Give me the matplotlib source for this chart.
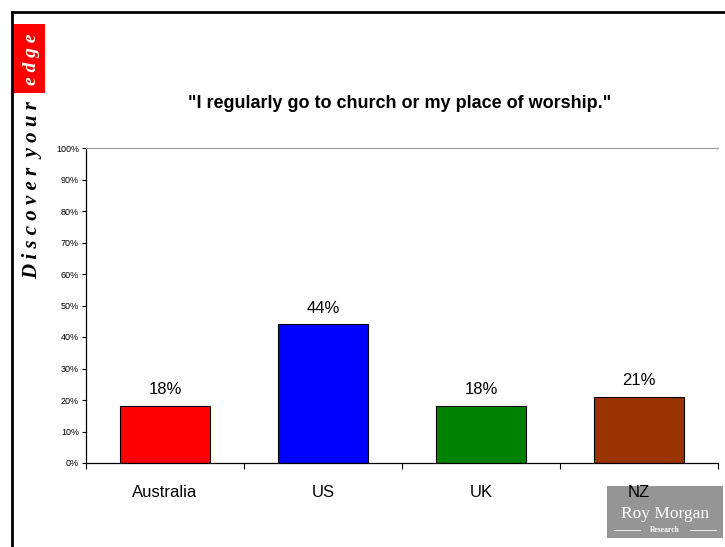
import matplotlib
matplotlib.use('Agg')
import matplotlib.pyplot as plt
from matplotlib.lines import Line2D
from matplotlib.patches import Rectangle
from matplotlib.ticker import FixedLocator, MultipleLocator, PercentFormatter

countries = ['Australia', 'US', 'UK', 'NZ']
values = [18, 44, 18, 21]
colors = ['#FF0000', '#0000FF', '#008000', '#993300']
title = '"I regularly go to church or my place of worship."'

plt.rcParams['font.family'] = ['Liberation Sans', 'DejaVu Sans']

W, H = 725, 547
fig = plt.figure(figsize=(W / 100, H / 100), dpi=100)

def fx(px):
    return px / W

def fy(py):
    return 1 - py / H

# outer frame
fig.add_artist(Line2D([fx(12), fx(725)], [fy(12), fy(12)], color='black', lw=2))
fig.add_artist(Line2D([fx(12), fx(12)], [fy(12), fy(547)], color='black', lw=2))

# "Discover your edge" strip
fig.add_artist(Rectangle((fx(13), fy(93)), fx(32), fy(24) - fy(93), color='#FF0000', lw=0))
fig.text(fx(31), fy(59), 'e d g e', rotation=90, ha='center', va='center', color='white',
         family='Liberation Serif', style='italic', fontsize=14, weight='bold')
fig.text(fx(32), fy(190), 'D i s c o v e r  y o u r', rotation=90, ha='center', va='center',
         color='black', family='Liberation Serif', style='italic', fontsize=15, weight='bold')

ax = fig.add_axes([fx(86), fy(463), fx(718) - fx(86), fy(148) - fy(463)])
x = list(range(len(countries)))
ax.bar(x, values, width=0.565, color=colors, edgecolor='black', linewidth=0.8)
for xi, v in zip(x, values):
    ax.text(xi, v + 2.8, f'{v}%', ha='center', va='bottom', fontsize=12)

ax.set_xlim(-0.5, len(countries) - 0.5)
ax.set_ylim(0, 100)
ax.yaxis.set_major_locator(MultipleLocator(10))
ax.yaxis.set_major_formatter(PercentFormatter(decimals=0))
ax.tick_params(axis='y', labelsize=6.5, length=3, width=0.8, pad=2)

ax.set_xticks(x)
ax.set_xticklabels(countries, fontsize=12)
ax.tick_params(axis='x', length=0, pad=16)
ax.xaxis.set_minor_locator(FixedLocator([-0.5, 0.5, 1.5, 2.5, 3.5]))
ax.tick_params(axis='x', which='minor', length=4, width=0.8, direction='out')

ax.spines['right'].set_visible(False)
ax.spines['top'].set_color('#999999')
ax.spines['left'].set_linewidth(0.9)
ax.spines['bottom'].set_linewidth(0.9)

fig.text(fx(400), fy(103), title, ha='center', va='center', fontsize=13, weight='bold')

# logo (behind the axes so the NZ label stays visible)
fig.add_artist(Rectangle((fx(607), fy(538)), fx(116), fy(486) - fy(538), color='#959595',
                         lw=0, zorder=-1))
fig.text(fx(665), fy(514), 'Roy Morgan', ha='center', va='center', color='white',
         family='Liberation Serif', fontsize=12.5)
fig.text(fx(665), fy(530), 'Research', ha='center', va='center', color='white',
         family='Liberation Serif', fontsize=5.5, weight='bold')
fig.add_artist(Line2D([fx(614), fx(640)], [fy(530), fy(530)], color='white', lw=0.6))
fig.add_artist(Line2D([fx(690), fx(716)], [fy(530), fy(530)], color='white', lw=0.6))

fig.savefig('out.png', dpi=100)
